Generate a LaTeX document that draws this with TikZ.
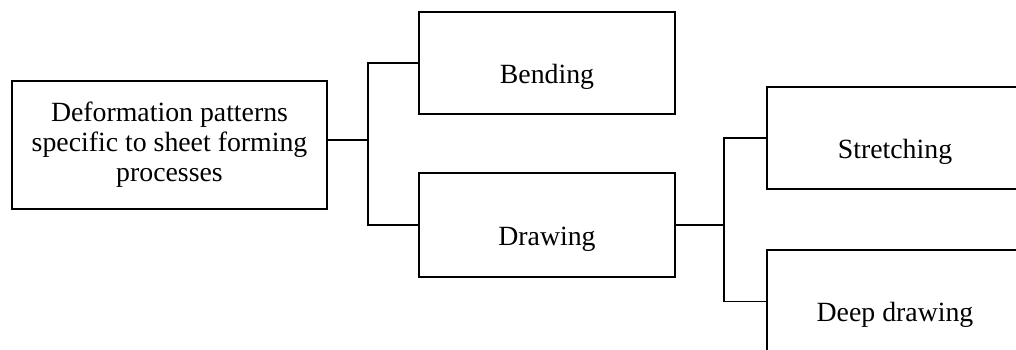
\documentclass[tikz,border=0pt]{standalone}
\usepackage{fontspec}
\setmainfont{Liberation Serif}
\begin{document}
\begin{tikzpicture}[x=1pt,y=-1pt,
  every node/.style={font=\fontsize{27.8}{30}\selectfont},
  box/.style={draw=black, line width=1.7pt, rectangle, inner sep=0pt,
    minimum width=256pt, minimum height=103pt, text height=40pt, text depth=0pt},
  link/.style={draw=black, line width=1.7pt}]
  \useasboundingbox (0,0) rectangle (1016,349);
  \clip (0,0) rectangle (1016,349);

  % process classification boxes
  \node[draw=black, line width=1.7pt, rectangle, inner sep=0pt,
        minimum width=315pt, minimum height=128pt, align=center]
        (main) at (169.5,145) {Deformation patterns\\specific to sheet forming\\processes};
  \node[box, minimum height=102pt] (bend) at (547,63) {Bending};
  \node[box, minimum height=104pt] (drw) at (547,225) {Drawing};
  \node[box, minimum height=102pt] (stretch) at (895,138) {Stretching};
  \node[box] (deep) at (895,301.5) {Deep drawing};

  % branching junctions
  \coordinate (j1) at (368,140);
  \coordinate (j2) at (724,225);

  \draw[link] (main.east |- j1) -- (j1);
  \draw[link] (bend.west) -| (j1);
  \draw[link] (drw.west) -| (j1);
  \draw[link] (drw.east) -- (j2);
  \draw[link] (stretch.west) -| (j2);
  \draw[link] (deep.west) -| (j2);
\end{tikzpicture}
\end{document}
